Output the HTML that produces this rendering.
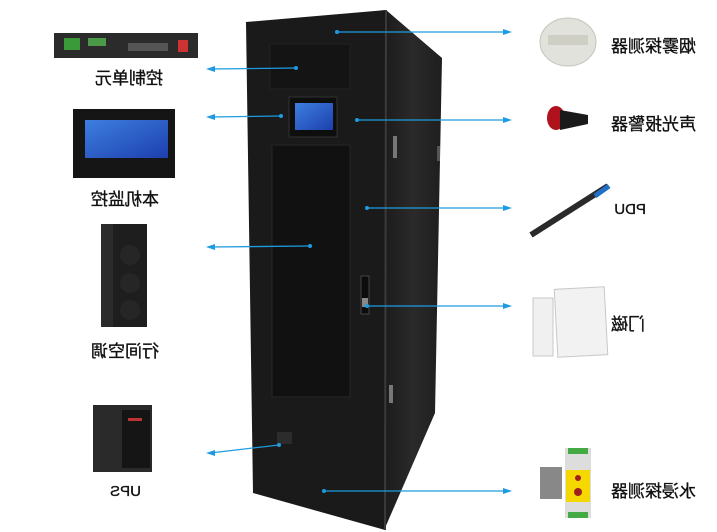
<!DOCTYPE html>
<html><head><meta charset="utf-8"><style>
html,body{margin:0;padding:0;background:#fff;}
svg{display:block}
text{font-family:"Liberation Sans","Noto Sans CJK SC",sans-serif;font-size:17px;fill:#111;stroke:#111;stroke-width:0.35px;}
</style></head><body>
<svg width="717" height="532" viewBox="0 0 717 532" xmlns="http://www.w3.org/2000/svg">
<defs>
<linearGradient id="side" x1="0" x2="1"><stop offset="0" stop-color="#1c1c1c"/><stop offset="0.5" stop-color="#2a2a2a"/><stop offset="1" stop-color="#1e1e1e"/></linearGradient>
<linearGradient id="scr" x1="0" y1="0" x2="1" y2="1"><stop offset="0" stop-color="#3d7fe0"/><stop offset="1" stop-color="#1d3fae"/></linearGradient>
</defs>
<polygon points="386,10 442,58 435,413 385,528" fill="url(#side)"/>
<polygon points="246,22 386,10 385,530 253,493" fill="#1a1a1a"/>
<line x1="386" y1="10" x2="385" y2="530" stroke="#3a3a3a" stroke-width="2"/>
<rect x="270" y="44" width="80" height="45" fill="#141414" stroke="#222"/>
<rect x="289" y="97" width="48" height="40" fill="#0e0e0e" stroke="#333"/>
<rect x="295" y="103" width="38" height="27" fill="url(#scr)"/>
<rect x="272" y="145" width="78" height="252" fill="#111" stroke="#262626"/>
<rect x="361" y="276" width="8" height="38" fill="#0c0c0c" stroke="#444"/>
<rect x="362" y="298" width="6" height="9" fill="#888"/>
<rect x="393" y="136" width="4" height="22" fill="#777"/>
<rect x="437" y="146" width="3" height="15" fill="#555"/>
<rect x="389" y="385" width="4" height="18" fill="#777"/>
<rect x="277" y="432" width="15" height="12" fill="#2c2c2c"/>

<g stroke="#1e9be0" stroke-width="1.3" fill="#1e9be0">
<line x1="337" y1="32" x2="508" y2="32"/><polygon points="512,32 503,29 503,35" stroke="none"/><circle cx="337" cy="32" r="2" stroke="none"/>
<line x1="357" y1="120" x2="508" y2="120"/><polygon points="512,120 503,117 503,123" stroke="none"/><circle cx="357" cy="120" r="2" stroke="none"/>
<line x1="367" y1="208" x2="508" y2="208"/><polygon points="512,208 503,205 503,211" stroke="none"/><circle cx="367" cy="208" r="2" stroke="none"/>
<line x1="367" y1="306" x2="508" y2="306"/><polygon points="512,306 503,303 503,309" stroke="none"/><circle cx="367" cy="306" r="2" stroke="none"/>
<line x1="324" y1="491" x2="508" y2="491"/><polygon points="512,491 503,488 503,494" stroke="none"/><circle cx="324" cy="491" r="2" stroke="none"/>
<line x1="296" y1="68" x2="210" y2="69"/><polygon points="206,69 215,66 215,72" stroke="none"/><circle cx="296" cy="68" r="2" stroke="none"/>
<line x1="281" y1="116" x2="210" y2="117"/><polygon points="206,117 215,114 215,120" stroke="none"/><circle cx="281" cy="116" r="2" stroke="none"/>
<line x1="310" y1="246" x2="210" y2="247"/><polygon points="206,247 215,244 215,250" stroke="none"/><circle cx="310" cy="246" r="2" stroke="none"/>
<line x1="279" y1="445" x2="210" y2="453"/><polygon points="206,453 215,450 215,456" stroke="none"/><circle cx="279" cy="445" r="2" stroke="none"/>
</g>

<rect x="54" y="33" width="144" height="25" fill="#2b2b2b"/>
<rect x="64" y="38" width="16" height="12" fill="#3a9a3a"/>
<rect x="88" y="38" width="18" height="8" fill="#4a9a4a"/>
<rect x="128" y="43" width="40" height="8" fill="#555"/>
<rect x="178" y="40" width="10" height="12" fill="#c33"/>
<rect x="73" y="109" width="102" height="69" fill="#151515"/>
<rect x="85" y="120" width="83" height="38" fill="url(#scr)"/>
<rect x="101" y="224" width="46" height="103" fill="#1e1e1e"/>
<rect x="101" y="224" width="12" height="103" fill="#2b2b2b"/>
<circle cx="130" cy="255" r="10" fill="#262626"/><circle cx="130" cy="283" r="10" fill="#262626"/><circle cx="130" cy="310" r="10" fill="#262626"/>
<rect x="93" y="405" width="59" height="67" fill="#2a2a2a"/>
<rect x="122" y="410" width="28" height="58" fill="#151515"/>
<rect x="128" y="418" width="14" height="3" fill="#b33"/>

<ellipse cx="568" cy="42" rx="28" ry="24" fill="#e2e2dc" stroke="#c4c4bc"/>
<rect x="548" y="35" width="40" height="10" fill="#cfcfc6"/>
<ellipse cx="556" cy="118" rx="9" ry="12" fill="#b0121c"/>
<polygon points="560,110 588,115 588,124 560,130" fill="#1a1a1a"/>
<line x1="531" y1="235" x2="608" y2="186" stroke="#2a2a2a" stroke-width="6"/>
<line x1="595" y1="196" x2="609" y2="186" stroke="#2070c8" stroke-width="5"/>
<rect x="533" y="298" width="20" height="58" fill="#f0f0f0" stroke="#c8c8c8"/>
<rect x="556" y="288" width="50" height="68" fill="#f2f2f2" stroke="#c8c8c8" transform="rotate(-3 581 322)"/>
<rect x="540" y="467" width="22" height="32" fill="#888"/>
<rect x="565" y="448" width="26" height="70" fill="#ddd"/>
<rect x="566" y="470" width="24" height="32" fill="#f5d800"/>
<circle cx="578" cy="478" r="3" fill="#a02020"/><circle cx="578" cy="492" r="4" fill="#a02020"/>
<rect x="568" y="448" width="20" height="6" fill="#4a4"/><rect x="568" y="512" width="20" height="6" fill="#4a4"/>

<g transform="translate(163,84) scale(-1,1)"><text x="0" y="0">控制单元</text></g>
<g transform="translate(159,205) scale(-1,1)"><text x="0" y="0">本机监控</text></g>
<g transform="translate(159,357) scale(-1,1)"><text x="0" y="0">行间空调</text></g>
<g transform="translate(141,496) scale(-1,1)"><text x="0" y="0" style="font-size:15px">UPS</text></g>
<g transform="translate(696,52) scale(-1,1)"><text x="0" y="0">烟雾探测器</text></g>
<g transform="translate(696,130) scale(-1,1)"><text x="0" y="0">声光报警器</text></g>
<g transform="translate(646,214) scale(-1,1)"><text x="0" y="0" style="font-size:15px">PDU</text></g>
<g transform="translate(645,330) scale(-1,1)"><text x="0" y="0">门磁</text></g>
<g transform="translate(696,497) scale(-1,1)"><text x="0" y="0">水浸探测器</text></g>
</svg>
</body></html>
